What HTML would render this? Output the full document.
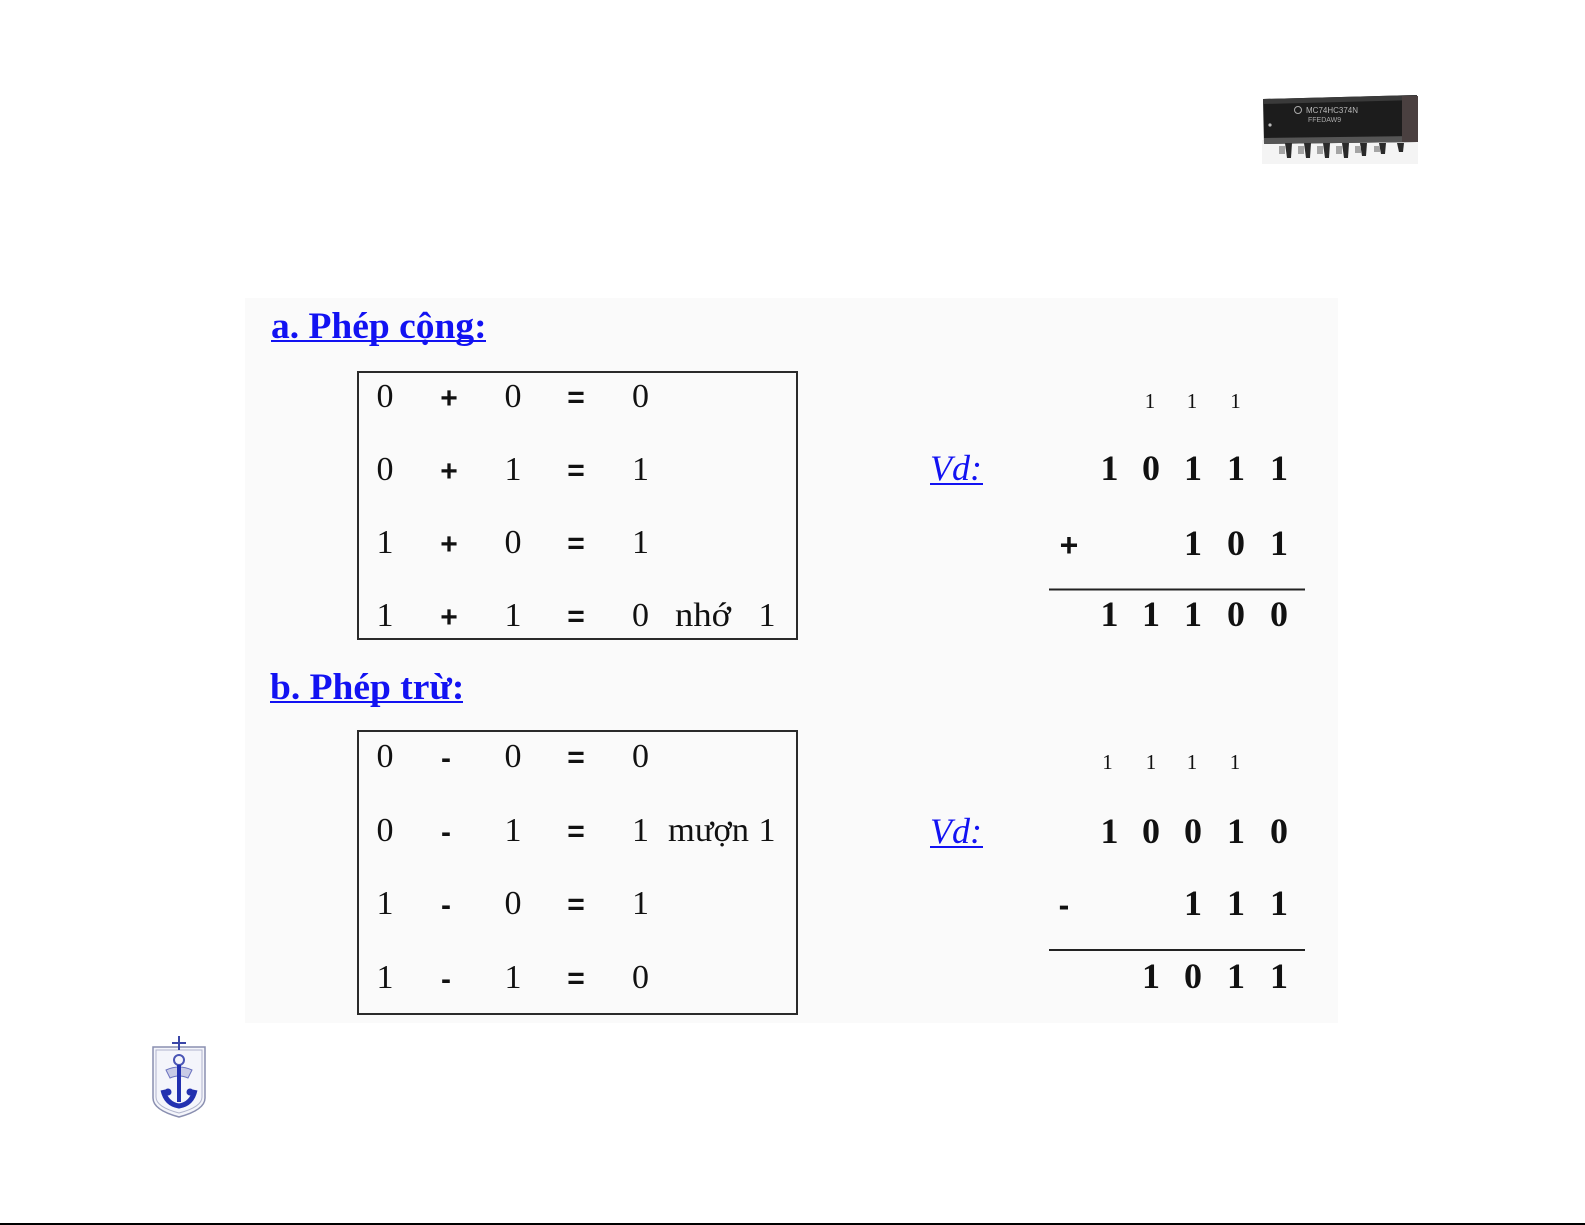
<!DOCTYPE html>
<html>
<head>
<meta charset="utf-8">
<style>
  html,body{margin:0;padding:0;background:#ffffff;}
  body{width:1585px;height:1225px;overflow:hidden;position:relative;}
  svg{position:absolute;left:0;top:0;}
  .t{font-family:"Liberation Serif","DejaVu Serif",serif;fill:#111;}
  .b{font-weight:bold;}
  .op{font-family:"Liberation Sans","DejaVu Sans",sans-serif;font-weight:bold;fill:#111;}
  .h{font-family:"Liberation Serif","DejaVu Serif",serif;font-weight:bold;fill:#1212f2;font-size:37.5px;}
  .vd{font-family:"Liberation Serif","DejaVu Serif",serif;font-style:italic;fill:#1212f2;font-size:36px;}
</style>
</head>
<body>
<svg width="1585" height="1225" viewBox="0 0 1585 1225" xmlns="http://www.w3.org/2000/svg">
  <!-- panel background -->
  <rect x="245" y="298" width="1093" height="725" fill="#fafafa"/>

  <!-- IC chip top right -->
  <g>
    <rect x="1262" y="140" width="156" height="24" fill="#f4f4f4"/>
    <polygon points="1263,99 1417,95 1417,142 1264,144" fill="#1c1c1c"/>
    <polygon points="1263,99 1417,95 1417,100 1263,104" fill="#3a3a3a"/>
    <polygon points="1264,138 1417,136 1417,142 1264,144" fill="#555"/>
    <rect x="1402" y="96" width="16" height="46" fill="#4a4040"/>
    <circle cx="1270" cy="125" r="1.6" fill="#bbb"/>
    <text x="1306" y="113" font-family="Liberation Sans, sans-serif" font-size="8" fill="#b8b8b8">MC74HC374N</text>
    <text x="1308" y="122" font-family="Liberation Sans, sans-serif" font-size="7" fill="#a8a8a8">FFEDAW9</text>
    <circle cx="1298" cy="110" r="3.5" fill="none" stroke="#aaa" stroke-width="1"/>
    <g fill="#2a2a2a">
      <polygon points="1285,143 1292,143 1291,158 1287,158"/>
      <polygon points="1304,143 1311,143 1310,158 1306,158"/>
      <polygon points="1323,143 1330,143 1329,158 1325,158"/>
      <polygon points="1342,143 1349,143 1348,158 1344,158"/>
      <polygon points="1360,143 1367,143 1366,156 1362,156"/>
      <polygon points="1379,143 1386,143 1385,154 1381,154"/>
      <polygon points="1397,143 1404,143 1403,152 1399,152"/>
    </g>
    <g fill="#a5a5a5">
      <rect x="1279" y="146" width="6" height="8"/>
      <rect x="1298" y="146" width="6" height="8"/>
      <rect x="1317" y="146" width="6" height="8"/>
      <rect x="1336" y="146" width="6" height="8"/>
      <rect x="1355" y="146" width="6" height="7"/>
      <rect x="1374" y="146" width="6" height="6"/>
    </g>
  </g>

  <!-- Heading a -->
  <text class="h" x="271" y="338">a. Phép cộng:</text>
  <rect x="271" y="340" width="215" height="2" fill="#1212f2"/>

  <!-- Table 1 -->
  <rect x="358" y="372" width="439" height="267" fill="none" stroke="#2a2a2a" stroke-width="2"/>
  <g class="t" font-size="34" text-anchor="middle">
    <text x="385" y="407">0</text><text x="513" y="407">0</text><text x="640.5" y="407">0</text>
    <text x="385" y="480">0</text><text x="513" y="480">1</text><text x="640.5" y="480">1</text>
    <text x="385" y="553">1</text><text x="513" y="553">0</text><text x="640.5" y="553">1</text>
    <text x="385" y="626">1</text><text x="513" y="626">1</text><text x="640.5" y="626">0</text>
    <text x="767" y="626">1</text>
  </g>
  <text class="t" font-size="34" x="675" y="626" textLength="56" lengthAdjust="spacingAndGlyphs">nhớ</text>
  <g class="op" font-size="30" text-anchor="middle">
    <text x="449" y="408">+</text><text x="576" y="407">=</text>
    <text x="449" y="481">+</text><text x="576" y="480">=</text>
    <text x="449" y="554">+</text><text x="576" y="553">=</text>
    <text x="449" y="627">+</text><text x="576" y="626">=</text>
  </g>

  <!-- Vd addition -->
  <text class="vd" x="930" y="480">Vd:</text>
  <rect x="930" y="483" width="53" height="2" fill="#1212f2"/>
  <g class="t" font-size="21" text-anchor="middle">
    <text x="1150" y="408">1</text><text x="1192" y="408">1</text><text x="1235.5" y="408">1</text>
  </g>
  <g class="t b" font-size="36" text-anchor="middle">
    <text x="1109.5" y="480">1</text><text x="1151" y="480">0</text><text x="1193" y="480">1</text><text x="1236" y="480">1</text><text x="1279" y="480">1</text>
    <text x="1193" y="555">1</text><text x="1236" y="555">0</text><text x="1279" y="555">1</text>
    <text x="1109.5" y="626">1</text><text x="1151" y="626">1</text><text x="1193" y="626">1</text><text x="1236" y="626">0</text><text x="1279" y="626">0</text>
  </g>
  <text class="op" font-size="32" text-anchor="middle" x="1069" y="556">+</text>
  <rect x="1049" y="588.5" width="256" height="2" fill="#222"/>

  <!-- Heading b -->
  <text class="h" x="270" y="699">b. Phép trừ:</text>
  <rect x="270" y="701" width="193" height="2" fill="#1212f2"/>

  <!-- Table 2 -->
  <rect x="358" y="731" width="439" height="283" fill="none" stroke="#2a2a2a" stroke-width="2"/>
  <g class="t" font-size="34" text-anchor="middle">
    <text x="385" y="767">0</text><text x="513" y="767">0</text><text x="640.5" y="767">0</text>
    <text x="385" y="841">0</text><text x="513" y="841">1</text><text x="640.5" y="841">1</text>
    <text x="385" y="914">1</text><text x="513" y="914">0</text><text x="640.5" y="914">1</text>
    <text x="385" y="988">1</text><text x="513" y="988">1</text><text x="640.5" y="988">0</text>
    <text x="767" y="841">1</text>
  </g>
  <text class="t" font-size="34" x="668" y="841" textLength="81" lengthAdjust="spacingAndGlyphs">mượn</text>
  <g class="op" font-size="30" text-anchor="middle">
    <text x="446" y="768">-</text><text x="576" y="767">=</text>
    <text x="446" y="842">-</text><text x="576" y="841">=</text>
    <text x="446" y="915">-</text><text x="576" y="914">=</text>
    <text x="446" y="989">-</text><text x="576" y="988">=</text>
  </g>

  <!-- Vd subtraction -->
  <text class="vd" x="930" y="843">Vd:</text>
  <rect x="930" y="846" width="53" height="2" fill="#1212f2"/>
  <g class="t" font-size="21" text-anchor="middle">
    <text x="1107.5" y="769">1</text><text x="1151" y="769">1</text><text x="1192" y="769">1</text><text x="1235" y="769">1</text>
  </g>
  <g class="t b" font-size="36" text-anchor="middle">
    <text x="1109.5" y="843">1</text><text x="1151" y="843">0</text><text x="1193" y="843">0</text><text x="1236" y="843">1</text><text x="1279" y="843">0</text>
    <text x="1193" y="915">1</text><text x="1236" y="915">1</text><text x="1279" y="915">1</text>
    <text x="1151" y="988">1</text><text x="1193" y="988">0</text><text x="1236" y="988">1</text><text x="1279" y="988">1</text>
  </g>
  <text class="op" font-size="32" text-anchor="middle" x="1064" y="916">-</text>
  <rect x="1049" y="949" width="256" height="2" fill="#222"/>

  <!-- Logo bottom-left -->
  <g>
    <path d="M153,1047 L205,1047 L205,1098 Q205,1110 179,1117 Q153,1110 153,1098 Z" fill="#f4f5fb" stroke="#8a8fb0" stroke-width="1.5"/>
    <path d="M156,1050 L202,1050 L202,1097 Q202,1107 179,1113 Q156,1107 156,1097 Z" fill="none" stroke="#b0b4cc" stroke-width="1"/>
    <line x1="179" y1="1036" x2="179" y2="1050" stroke="#3a46a8" stroke-width="2"/>
    <line x1="172" y1="1043" x2="186" y2="1043" stroke="#3a46a8" stroke-width="2"/>
    <circle cx="179" cy="1060" r="5" fill="none" stroke="#4a55b5" stroke-width="2"/>
    <path d="M166,1070 Q179,1064 192,1070 L188,1078 Q179,1074 170,1078 Z" fill="#c8cbe6" stroke="#6a72bf" stroke-width="1"/>
    <line x1="179" y1="1065" x2="179" y2="1102" stroke="#2230b0" stroke-width="4"/>
    <path d="M163,1090 Q166,1104 179,1106 Q192,1104 195,1090" fill="none" stroke="#2230b0" stroke-width="5"/>
    <circle cx="168" cy="1092" r="3.5" fill="#2230b0"/>
    <circle cx="190" cy="1092" r="3.5" fill="#2230b0"/>
  </g>

  <!-- bottom line -->
  <rect x="0" y="1223" width="1585" height="2" fill="#000"/>
</svg>
</body>
</html>
